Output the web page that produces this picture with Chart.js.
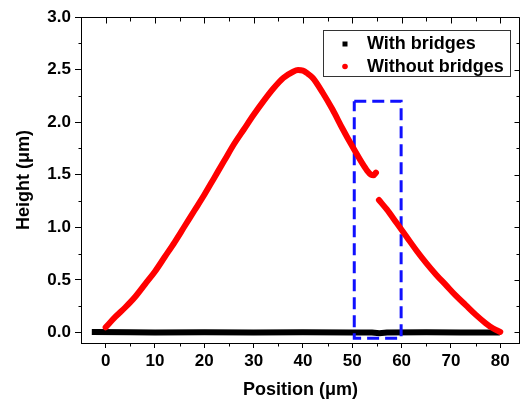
<!DOCTYPE html>
<html>
<head>
<meta charset="utf-8">
<script src="https://cdn.jsdelivr.net/npm/chart.js@4/dist/chart.umd.min.js"></script>
<style>
  html, body { margin: 0; padding: 0; background: #fff; }
  #wrap { width: 520px; height: 401px; }
</style>
</head>
<body>
<div id="wrap"><canvas id="chart" width="520" height="401"></canvas></div>
<script>
// Without bridges (red) - two pieces, gap at ~55 um
const redX = [0, 2, 4, 6, 8, 10, 12, 14, 16, 18, 20, 22, 24, 26, 28, 30, 32, 34, 36, 38, 39, 40, 41, 42, 44, 46, 48, 50, 52, 53, 53.8, 54.3, 54.8,
              55.1,
              55.4, 57, 59, 61, 63, 65, 67, 69, 71, 73, 75, 77, 78.5, 80];
const redY = [0.05, 0.15, 0.24, 0.34, 0.46, 0.58, 0.72, 0.86, 1.01, 1.16, 1.31, 1.47, 1.63, 1.79, 1.93, 2.07, 2.20, 2.32, 2.42, 2.48, 2.495, 2.49, 2.46, 2.42, 2.28, 2.12, 1.94, 1.77, 1.61, 1.54, 1.50, 1.495, 1.52,
              null,
              1.26, 1.17, 1.04, 0.91, 0.78, 0.66, 0.55, 0.45, 0.35, 0.26, 0.17, 0.09, 0.04, 0.005];

// With bridges (black) - flat at zero
const blackX = [-2.2, 5, 10, 20, 30, 40, 50, 54, 55.5, 57, 65, 72, 79.3];
const blackY = [0.004, 0.002, 0, 0.002, 0, 0.002, 0, 0, -0.008, 0, 0.002, 0, 0];

// dashed box marking the gap
const boxX = [50.4, 59.9, 59.9, 50.4, 50.4];
const boxY = [2.2, 2.2, -0.055, -0.055, 2.2];

const xTicks = [0, 10, 20, 30, 40, 50, 60, 70, 80];
const xMinor = [-5, 5, 15, 25, 35, 45, 55, 65, 75];
const yTicks = [0, 0.5, 1.0, 1.5, 2.0, 2.5, 3.0];
const yMinor = [0.25, 0.75, 1.25, 1.75, 2.25, 2.75];

const X_MIN = -5, X_MAX = 84, Y_MIN = -0.1, Y_MAX = 3.0;

const legendItems = [
  { label: 'With bridges', color: '#000000', shape: 'rect' },
  { label: 'Without bridges', color: '#ff0000', shape: 'circle' }
];

const toPts = (xs, ys) => xs.map((x, i) => ({ x, y: ys[i] }));

const FONT = 'Liberation Sans, Arial, sans-serif';

// frame on top/right, minor ticks everywhere (Origin style)
const frameTicks = {
  id: 'frameTicks',
  afterDraw(chart) {
    const { ctx, chartArea: a, scales: { x, y } } = chart;
    const px = v => Math.round(x.getPixelForValue(v)) + 0.5;
    const py = v => Math.round(y.getPixelForValue(v)) + 0.5;
    const top = Math.round(a.top) + 0.5, bottom = Math.round(a.bottom) + 0.5;
    const left = Math.round(a.left) + 0.5, right = Math.round(a.right) - 0.5;
    ctx.save();
    ctx.strokeStyle = '#000';
    ctx.lineWidth = 1;
    ctx.beginPath();
    ctx.moveTo(left, top); ctx.lineTo(right, top);
    ctx.moveTo(right, top); ctx.lineTo(right, bottom);
    xTicks.forEach(v => { ctx.moveTo(px(v), top); ctx.lineTo(px(v), top + 6); });
    xMinor.forEach(v => {
      if (v <= X_MIN) return;
      ctx.moveTo(px(v), top); ctx.lineTo(px(v), top + 4);
      ctx.moveTo(px(v), bottom); ctx.lineTo(px(v), bottom + 3);
    });
    yTicks.forEach(v => { ctx.moveTo(right, py(v)); ctx.lineTo(right - 5, py(v)); });
    yMinor.forEach(v => {
      ctx.moveTo(left, py(v)); ctx.lineTo(left - 3, py(v));
      ctx.moveTo(right, py(v)); ctx.lineTo(right - 3, py(v));
    });
    ctx.stroke();
    ctx.restore();
  }
};

// boxed legend inside the plot, top right
const boxLegend = {
  id: 'boxLegend',
  afterDraw(chart) {
    const { ctx } = chart;
    ctx.save();
    ctx.strokeStyle = '#333';
    ctx.lineWidth = 1;
    ctx.strokeRect(323.5, 30.5, 187, 46);
    ctx.font = 'bold 18px ' + FONT;
    ctx.textBaseline = 'alphabetic';
    legendItems.forEach((it, i) => {
      const cy = 44 + i * 22.5;
      ctx.fillStyle = it.color;
      if (it.shape === 'rect') {
        ctx.fillRect(342.5, cy - 2.5, 5, 5);
      } else {
        ctx.beginPath();
        ctx.arc(345, cy, 2.8, 0, Math.PI * 2);
        ctx.fill();
      }
      ctx.fillStyle = '#000';
      ctx.fillText(it.label, 367, cy + 4.5 + i * 0.5);
    });
    ctx.restore();
  }
};

new Chart(document.getElementById('chart'), {
  type: 'scatter',
  data: {
    datasets: [
      {
        label: 'Without bridges',
        data: toPts(redX, redY),
        showLine: true,
        borderColor: '#ff0000',
        backgroundColor: '#ff0000',
        borderWidth: 6,
        borderCapStyle: 'round',
        borderJoinStyle: 'round',
        pointRadius: 0,
        cubicInterpolationMode: 'monotone',
        spanGaps: false
      },
      {
        label: 'box',
        data: toPts(boxX, boxY),
        showLine: true,
        borderColor: '#1010ff',
        borderWidth: 3,
        borderDash: [12, 6],
        pointRadius: 0,
        tension: 0
      },
      {
        label: 'With bridges',
        data: toPts(blackX, blackY),
        showLine: true,
        borderColor: '#000000',
        backgroundColor: '#000000',
        borderWidth: 6,
        borderCapStyle: 'square',
        pointRadius: 0,
        tension: 0
      }
    ]
  },
  options: {
    responsive: false,
    devicePixelRatio: 1,
    animation: false,
    layout: { padding: { left: 0, right: 0, top: 17, bottom: 0 } },
    plugins: {
      legend: { display: false },
      tooltip: { enabled: false }
    },
    scales: {
      x: {
        type: 'linear',
        min: X_MIN,
        max: X_MAX,
        afterBuildTicks: s => { s.ticks = xTicks.map(v => ({ value: v })); },
        afterFit: s => { s.height = 58; },
        grid: { drawOnChartArea: false, tickLength: 5, tickColor: '#000' },
        border: { color: '#000', width: 1 },
        ticks: {
          color: '#000',
          font: { family: FONT, size: 17, weight: 'bold' },
          padding: 3,
          maxRotation: 0,
          autoSkip: false,
          callback: v => String(v)
        },
        title: {
          display: true,
          text: 'Position (μm)',
          color: '#000',
          font: { family: FONT, size: 18, weight: 'bold' },
          padding: { top: 0, bottom: 0 }
        }
      },
      y: {
        type: 'linear',
        min: Y_MIN,
        max: Y_MAX,
        afterBuildTicks: s => { s.ticks = yTicks.map(v => ({ value: v })); },
        afterFit: s => { s.width = 81; },
        grid: { drawOnChartArea: false, tickLength: 6, tickColor: '#000' },
        border: { color: '#000', width: 1 },
        ticks: {
          color: '#000',
          font: { family: FONT, size: 17, weight: 'bold' },
          padding: 4,
          callback: v => v.toFixed(1)
        },
        title: {
          display: true,
          text: 'Height (μm)',
          color: '#000',
          font: { family: FONT, size: 18, weight: 'bold' },
          padding: { top: 13, bottom: 0 }
        }
      }
    }
  },
  plugins: [frameTicks, boxLegend]
});
</script>
</body>
</html>
